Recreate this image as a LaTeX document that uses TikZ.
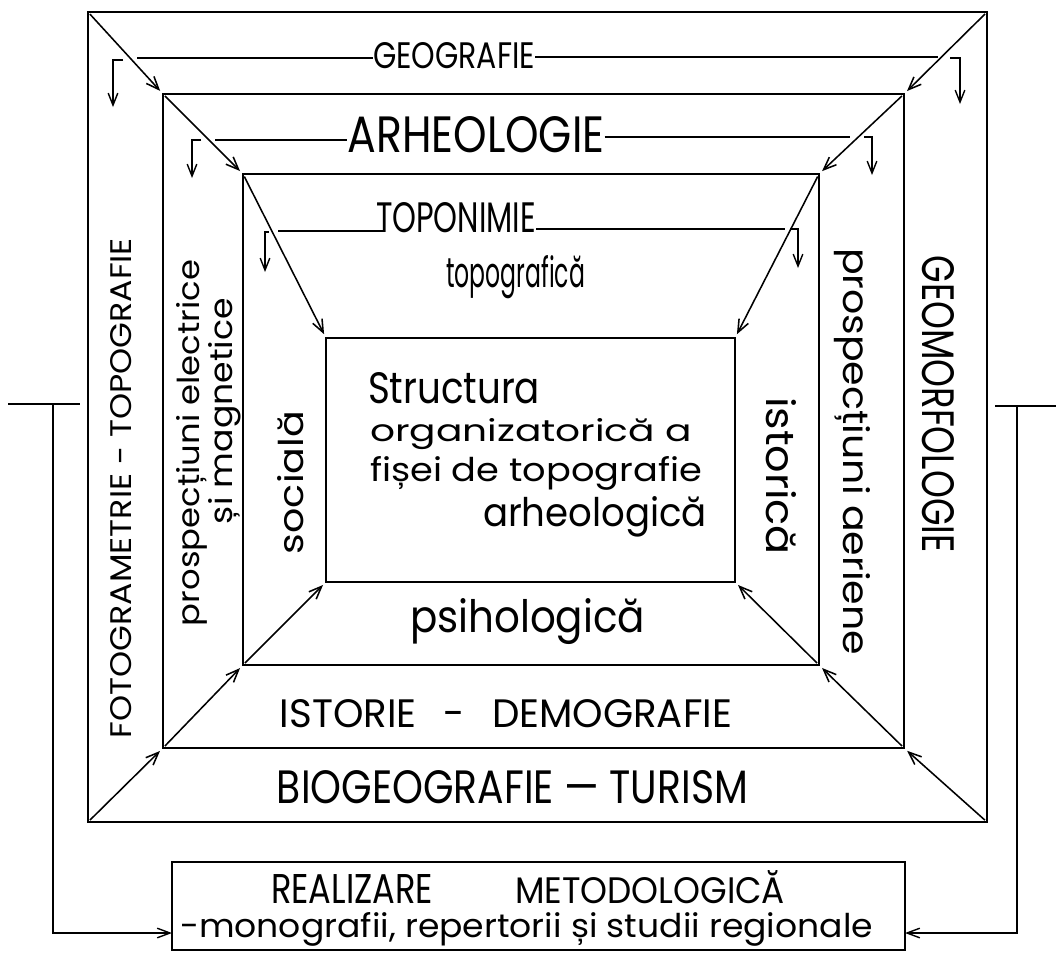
\documentclass[tikz,border=0pt]{standalone}
\usepackage{fontspec}
\setmainfont{Poppins}
\usepackage{graphicx}
\usetikzlibrary{arrows.meta,calc}
\newdimen\px \px=0.025cm
\newcommand{\fitt}[3]{\resizebox{#1\px}{#2\px}{#3}}
\tikzset{
  frame/.style={draw, line width=2.1pt, inner sep=0pt, outer sep=0pt},
  diag/.style={line width=1.1pt, -{Straight Barb[length=3.2mm,width=2.6mm,line width=1.1pt]}, shorten <=2pt, shorten >=3pt},
  tline/.style={line width=1pt},
  hookarr/.style={line width=1pt, -{Straight Barb[length=3mm,width=2.4mm,line width=1pt]}},
  fbarr/.style={line width=1pt, -{Straight Barb[length=3.2mm,width=2.4mm,line width=1pt]}},
  tee/.style={line width=2pt},
  lbl/.style={inner sep=0pt, outer sep=0pt},
}
\begin{document}
\begin{tikzpicture}[x=0.025cm,y=-0.025cm]
\useasboundingbox (0,0) rectangle (1056,962);
\fill[white] (0,0) rectangle (1056,962);

% frames
\node[frame, minimum width=899\px, minimum height=810\px] (r1) at (537.5,417) {};
\node[frame, minimum width=741\px, minimum height=654\px] (r2) at (533.5,421) {};
\node[frame, minimum width=576\px, minimum height=491\px] (r3) at (531,419.5) {};
\node[frame, minimum width=409\px, minimum height=244\px] (r4) at (530.5,460) {};
\node[frame, minimum width=733\px, minimum height=88\px] (bx) at (538.5,906) {};

% diagonal arrows
\foreach \c in {north west, north east, south west, south east}{
  \draw[diag] (r1.\c) -- (r2.\c);
  \draw[diag] (r2.\c) -- (r3.\c);
  \draw[diag] (r3.\c) -- (r4.\c);
}

% titles
\node[lbl] (geo) at (454,55.5) {\fitt{162}{26}{GEOGRAFIE}};
\node[lbl] (arh) at (476,135) {\fitt{257}{36}{ARHEOLOGIE}};
\node[lbl, anchor=south] (top) at (456,233) {\fitt{160}{30}{TOPONIMIE}};

\coordinate (gL) at (137,58);  \coordinate (gR) at (938,57);
\coordinate (gh1) at (123,60); \coordinate (gh2) at (113,107);
\coordinate (gh3) at (950,58); \coordinate (gh4) at (960,104);
\draw[tline] (gL) -- (gL -| geo.west);
\draw[tline] (gR -| geo.east) -- (gR);
\draw[hookarr] (gh1) -| (gh2);
\draw[hookarr] (gh3) -| (gh4);

\coordinate (aL) at (215,140); \coordinate (aR) at (850,137);
\coordinate (ah1) at (201,140); \coordinate (ah2) at (192,178);
\coordinate (ah3) at (864,137); \coordinate (ah4) at (872,175);
\draw[tline] (aL) -- (aL -| arh.west);
\draw[tline] (aR -| arh.east) -- (aR);
\draw[hookarr] (ah1) -| (ah2);
\draw[hookarr] (ah3) -| (ah4);

\coordinate (tL) at (278,231); \coordinate (tR) at (785,229);
\coordinate (th1) at (269,232); \coordinate (th2) at (265,272);
\coordinate (th3) at (790,229); \coordinate (th4) at (798,268);
\draw[tline] (tL) -- ($(tL -| top.west)+(9,0)$);
\draw[tline] (tR -| top.east) -- (tR);
\draw[hookarr] (th1) -| (th2);
\draw[hookarr] (th3) -| (th4);

% side labels
\node[lbl, rotate=-90] (geom) at (938,404) {\fitt{297}{32}{GEOMORFOLOGIE}};
\node[lbl, rotate=90] (foto) at (121,488) {\fitt{500}{21}{FOTOGRAMETRIE - TOPOGRAFIE}};
\node[lbl, rotate=90, anchor=base west] (pe1) at (199,626) {\fitt{366}{23}{prospecțiuni electrice}};
\node[lbl, rotate=90, anchor=base west] (pe2) at (232,524) {\fitt{226}{24}{și magnetice}};
\node[lbl, rotate=-90, anchor=base west] (pa) at (843,248) {\fitt{407}{27}{prospecțiuni aeriene}};
\node[lbl, rotate=90, anchor=base west] (soc) at (303,554) {\fitt{143}{26}{socială}};
\node[lbl, rotate=-90, anchor=base west] (ist) at (766,397) {\fitt{158}{30}{istorică}};
\node[lbl, anchor=base west] (topo) at (446,287) {\fitt{139}{32}{topografică}};
\node[lbl, anchor=base west] (psi) at (410,632) {\fitt{235}{34}{psihologică}};
\node[lbl] (istd) at (506,714) {\fitt{452}{28}{ISTORIE\hspace{0.7em}-\hspace{0.7em}DEMOGRAFIE}};
\node[lbl] (bio) at (512.5,787) {\fitt{471}{33}{BIOGEOGRAFIE — TURISM}};

% inner text
\node[lbl, anchor=base west] (s1) at (368,403) {\fitt{172}{31}{Structura}};
\node[lbl, anchor=base west] (s2) at (370,441) {\fitt{322}{23}{organizatorică a}};
\node[lbl, anchor=base west] (s3) at (370,481) {\fitt{332}{25}{fișei de topografie}};
\node[lbl, anchor=base west] (s4) at (483,526) {\fitt{224}{30}{arheologică}};

% bottom box text
\node[lbl, anchor=base west] (b1) at (271,903) {\fitt{162}{29}{REALIZARE}};
\node[lbl, anchor=base west] (b1b) at (515,903) {\fitt{270}{33}{METODOLOGICĂ}};
\node[lbl, anchor=base west] (b2) at (180,937) {\fitt{693}{25}{-monografii, repertorii și studii regionale}};

% feedback lines
\coordinate (la) at (8,404);  \coordinate (lb) at (80,404);
\coordinate (lt) at (53,404); \coordinate (lf) at (53,933);
\draw[tee] (la) -- (lb);
\draw[fbarr] (lt) -- (lf) -- (lf -| bx.west);
\coordinate (ra) at (995,406); \coordinate (rb) at (1056,406);
\coordinate (rt) at (1017,406); \coordinate (rf) at (1017,933);
\draw[tee] (ra) -- (rb);
\draw[fbarr] (rt) -- (rf) -- (rf -| bx.east);
\end{tikzpicture}
\end{document}
